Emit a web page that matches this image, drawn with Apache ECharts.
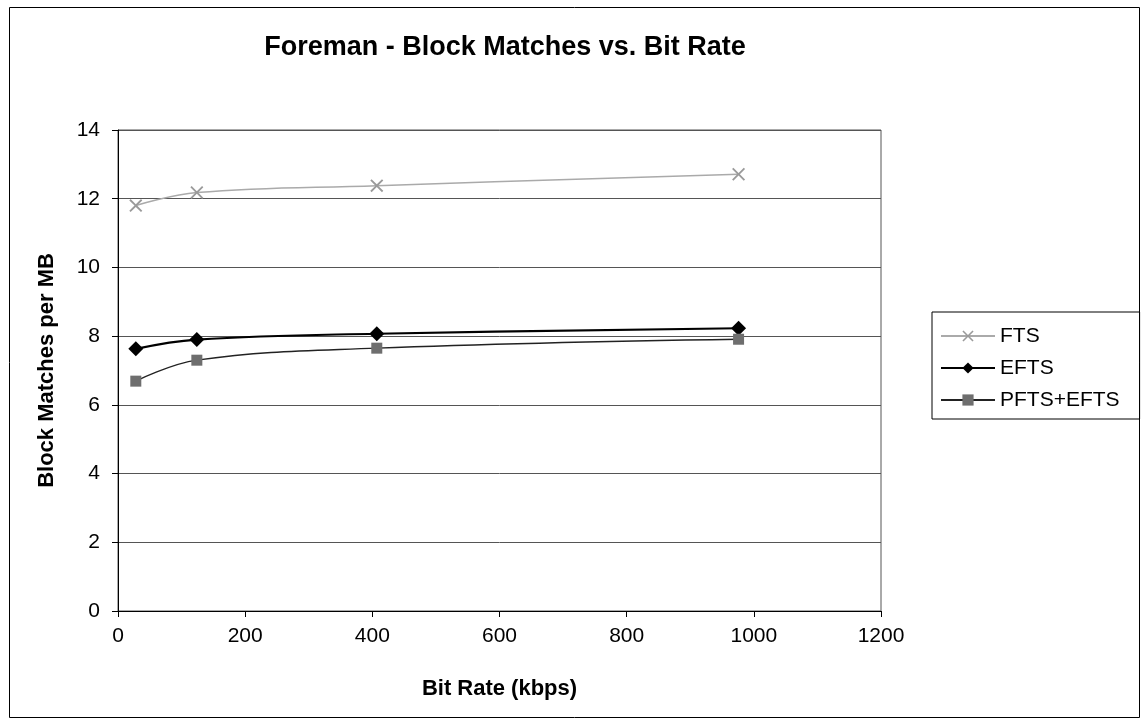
<!DOCTYPE html>
<html>
<head>
<meta charset="utf-8">
<title>Foreman - Block Matches vs. Bit Rate</title>
<script src="https://cdn.jsdelivr.net/npm/echarts@6/dist/echarts.min.js"></script>
<style>
    html, body { margin: 0; padding: 0; background: #fff; }
    #chart { width: 1147px; height: 726px; }
</style>
</head>
<body>
<div id="chart"></div>
<script>
// 码率（kbps）
const bitRates = [28, 124, 407, 976];
// 每宏块的块匹配次数
const ftsValues = [11.8, 12.18, 12.38, 12.71];
const eftsValues = [7.63, 7.9, 8.07, 8.23];
const pftsEftsValues = [6.69, 7.3, 7.65, 7.91];
// 坐标轴刻度
const xTicks = [0, 200, 400, 600, 800, 1000, 1200];
const yTicks = [0, 2, 4, 6, 8, 10, 12, 14];

const FONT = '"Liberation Sans", Arial, sans-serif';
// 叉号标记（FTS）
const crossPath = 'path://M0,1L1,0L5,4L9,0L10,1L6,5L10,9L9,10L5,6L1,10L0,9L4,5Z';

function pairs(xs, ys) {
    return xs.map((x, i) => [x, ys[i]]);
}

const chart = echarts.init(document.getElementById('chart'));

const option = {
    animation: false,
    backgroundColor: '#fff',
    textStyle: { fontFamily: FONT },
    title: {
        text: 'Foreman - Block Matches vs. Bit Rate',
        left: 500, top: 29, textAlign: 'center',
        textStyle: { fontFamily: FONT, fontSize: 27, fontWeight: 'bold', color: '#000' }
    },
    graphic: [{
        type: 'rect',
        shape: { x: 9.5, y: 7.5, width: 1130, height: 710 },
        style: { fill: 'none', stroke: '#000', lineWidth: 1 },
        silent: true
    }],
    legend: {
        orient: 'vertical',
        left: 932, top: 312,
        padding: [12, 20, 7, 8],
        itemWidth: 54, itemHeight: 14, itemGap: 8, itemTextGap: 6,
        borderColor: '#000', borderWidth: 1,
        textStyle: { fontFamily: FONT, fontSize: 21, color: '#000', lineHeight: 24 },
        data: ['FTS', 'EFTS', 'PFTS+EFTS']
    },
    grid: { left: 118, top: 130, width: 763, height: 481, show: true, borderColor: '#555', borderWidth: 1 },
    xAxis: {
        type: 'value',
        min: 0, max: 1200, interval: 200,
        name: 'Bit Rate (kbps)', nameLocation: 'middle', nameGap: 67,
        nameTextStyle: { fontFamily: FONT, fontSize: 22, fontWeight: 'bold', color: '#000' },
        axisLine: { onZero: false, lineStyle: { color: '#000', width: 1 } },
        axisTick: { show: true, inside: false, length: 6, lineStyle: { color: '#000' } },
        axisLabel: {
            margin: 15, fontSize: 21, color: '#000', fontFamily: FONT,
            formatter: v => xTicks.includes(v) ? String(v) : ''
        },
        splitLine: { show: false }
    },
    yAxis: {
        type: 'value',
        min: 0, max: 14, interval: 2,
        name: 'Block Matches per MB', nameLocation: 'middle', nameGap: 60, nameRotate: 90,
        nameTextStyle: { fontFamily: FONT, fontSize: 22, fontWeight: 'bold', color: '#000' },
        axisLine: { show: true, lineStyle: { color: '#000', width: 1 } },
        axisTick: { show: true, inside: false, length: 6, lineStyle: { color: '#000' } },
        axisLabel: {
            margin: 18, fontSize: 21, color: '#000', fontFamily: FONT,
            formatter: v => yTicks.includes(v) ? String(v) : ''
        },
        splitLine: { show: true, lineStyle: { color: '#555', width: 1 } }
    },
    series: [
        {
            name: 'FTS', type: 'line', smooth: 0.4,
            data: pairs(bitRates, ftsValues),
            symbol: crossPath, symbolSize: 13,
            itemStyle: { color: '#9a9a9a' },
            lineStyle: { color: '#aaaaaa', width: 1.5 }
        },
        {
            name: 'EFTS', type: 'line', smooth: 0.4,
            data: pairs(bitRates, eftsValues),
            symbol: 'diamond', symbolSize: 15,
            itemStyle: { color: '#000' },
            lineStyle: { color: '#000', width: 2.2 }
        },
        {
            name: 'PFTS+EFTS', type: 'line', smooth: 0.4,
            data: pairs(bitRates, pftsEftsValues),
            symbol: 'rect', symbolSize: 11,
            itemStyle: { color: '#6e6e6e' },
            lineStyle: { color: '#222', width: 1.3 }
        }
    ]
};

chart.setOption(option);
</script>
</body>
</html>
